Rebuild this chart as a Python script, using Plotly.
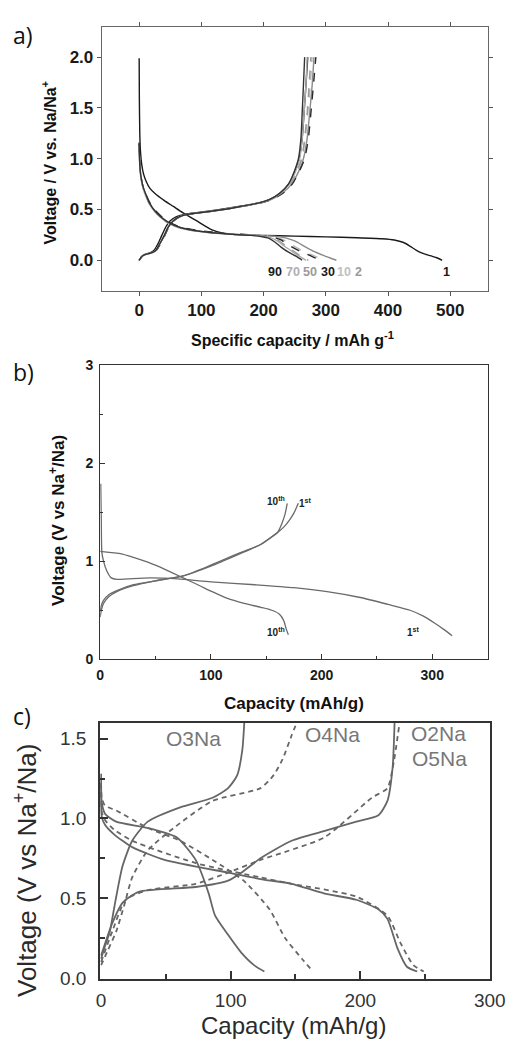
import plotly.graph_objects as go

W, H = 526, 1045

# ---------------- Panel a data ----------------
A_CYCLES = ["1", "2", "10", "30", "50", "70", "90"]

A_DIS_X = {
    "1":  [0, 0.3, 1, 2, 4, 7, 11, 17, 25, 40, 55, 70, 92, 117, 138, 150, 200, 250, 300, 350, 390, 410, 425, 435, 445, 455, 468, 478, 487],
    "2":  [0, 0.5, 1.5, 3, 6, 10, 16, 26, 45, 67, 100, 143, 180, 205, 220, 235, 250, 265, 280, 295, 308, 317],
    "10": [0, 0.5, 1.5, 3, 6, 10, 16, 26, 45, 67, 100, 143, 180, 205, 218, 232, 246, 260, 275, 290, 300],
    "30": [0, 0.5, 1.5, 3, 6, 10, 16, 26, 45, 67, 100, 143, 180, 205, 215, 228, 240, 255, 270, 284, 294],
    "50": [0, 0.5, 1.5, 3, 6, 10, 16, 26, 45, 67, 100, 143, 180, 203, 212, 225, 236, 248, 260, 272],
    "70": [0, 0.5, 1.5, 3, 6, 10, 16, 26, 45, 67, 100, 143, 180, 200, 210, 222, 233, 245, 257, 268],
    "90": [0, 0.5, 1.5, 3, 6, 10, 16, 26, 45, 67, 100, 143, 180, 198, 207, 218, 228, 240, 252, 262],
}
A_DIS_Y = {
    "1":  [1.99, 1.6, 1.25, 1.08, 0.95, 0.85, 0.78, 0.71, 0.66, 0.59, 0.53, 0.47, 0.39, 0.30, 0.262, 0.255, 0.245, 0.238, 0.23, 0.222, 0.212, 0.20, 0.175, 0.14, 0.10, 0.07, 0.045, 0.025, 0.0],
    "2":  [1.15, 1.02, 0.90, 0.82, 0.73, 0.66, 0.57, 0.48, 0.38, 0.32, 0.285, 0.26, 0.25, 0.24, 0.235, 0.22, 0.19, 0.14, 0.09, 0.05, 0.02, 0.0],
    "10": [1.14, 1.01, 0.90, 0.81, 0.72, 0.65, 0.57, 0.48, 0.38, 0.32, 0.285, 0.26, 0.25, 0.24, 0.23, 0.20, 0.15, 0.10, 0.06, 0.02, 0.0],
    "30": [1.16, 1.03, 0.91, 0.82, 0.73, 0.66, 0.58, 0.49, 0.385, 0.325, 0.29, 0.262, 0.25, 0.238, 0.23, 0.20, 0.15, 0.10, 0.06, 0.02, 0.0],
    "50": [1.13, 1.0, 0.89, 0.81, 0.72, 0.65, 0.56, 0.47, 0.375, 0.315, 0.28, 0.258, 0.248, 0.235, 0.225, 0.19, 0.14, 0.09, 0.04, 0.0],
    "70": [1.12, 1.0, 0.88, 0.80, 0.71, 0.64, 0.56, 0.47, 0.37, 0.315, 0.28, 0.257, 0.246, 0.235, 0.225, 0.19, 0.14, 0.09, 0.04, 0.0],
    "90": [1.15, 1.02, 0.90, 0.82, 0.73, 0.66, 0.57, 0.48, 0.38, 0.32, 0.283, 0.258, 0.245, 0.232, 0.22, 0.18, 0.13, 0.08, 0.04, 0.0],
}
A_CH_Y = [0, 0.035, 0.055, 0.065, 0.075, 0.10, 0.16, 0.24, 0.33, 0.39, 0.43, 0.455, 0.47, 0.495, 0.53, 0.565, 0.60, 0.66, 0.75, 0.87, 1.0, 1.2, 1.45, 1.72, 2.0]
A_CH_X = {
    "1":  [0, 4, 8, 13, 18, 24, 30, 36, 43, 50, 60, 75, 95, 125, 160, 192, 210, 226, 240, 250, 257, 262, 265, 268, 271],
    "2":  [0, 4, 9, 15, 21, 27, 33, 40, 47, 55, 65, 80, 100, 130, 165, 195, 213, 230, 245, 256, 264, 270, 274, 278, 281],
    "10": [0, 4, 9, 15, 21, 27, 33, 40, 47, 55, 65, 80, 100, 130, 165, 195, 213, 229, 244, 254, 262, 267, 271, 275, 278],
    "30": [0, 4, 9, 16, 22, 28, 34, 41, 48, 56, 66, 81, 101, 131, 166, 196, 214, 231, 246, 257, 266, 272, 276, 280, 284],
    "50": [0, 4, 9, 15, 21, 27, 33, 40, 47, 55, 65, 80, 100, 130, 165, 195, 212, 228, 243, 253, 261, 266, 270, 273, 276],
    "70": [0, 4, 9, 15, 21, 27, 33, 40, 47, 55, 65, 80, 100, 130, 164, 194, 211, 227, 241, 251, 258, 262, 265, 268, 270],
    "90": [0, 4, 9, 15, 21, 27, 33, 40, 47, 55, 65, 80, 100, 130, 163, 193, 210, 226, 240, 249, 256, 260, 262, 264, 266],
}
A_COLORS = {"1": "#1a1a1a", "2": "#8a8a8a", "10": "#b8b8b8", "30": "#2a2a2a", "50": "#9a9a9a", "70": "#ababab", "90": "#333333"}
A_DASH = {"1": "solid", "2": "solid", "10": "dash", "30": "dash", "50": "dash", "70": "solid", "90": "solid"}
A_LABELS = ["90", "70", "50", "30", "10", "2", "1"]
A_LABEL_X = [218, 247, 275, 303, 329, 353, 494]
A_LABEL_COLORS = ["#1a1a1a", "#b0b0b0", "#9a9a9a", "#1a1a1a", "#c0c0c0", "#9a9a9a", "#1a1a1a"]

# ---------------- Panel b data ----------------
B_DIS1_X = [0.5, 1, 1.5, 3, 6, 10, 15, 25, 45, 70, 100, 140, 175, 205, 235, 260, 280, 292, 302, 311, 318]
B_DIS1_Y = [1.79, 1.4, 1.09, 1.0, 0.9, 0.83, 0.815, 0.82, 0.83, 0.82, 0.79, 0.76, 0.73, 0.69, 0.63, 0.56, 0.50, 0.44, 0.37, 0.30, 0.24]
B_DIS10_X = [0, 8, 17, 30, 43, 58, 75, 90, 101, 115, 130, 145, 155, 162, 166, 168, 170]
B_DIS10_Y = [1.10, 1.09, 1.08, 1.04, 0.99, 0.92, 0.83, 0.75, 0.69, 0.62, 0.57, 0.53, 0.50, 0.46, 0.39, 0.31, 0.25]
B_CH1_X = [0, 1, 3, 8, 15, 30, 50, 75, 100, 125, 145, 160, 166, 171, 175, 179]
B_CH1_Y = [0.43, 0.50, 0.57, 0.64, 0.69, 0.75, 0.80, 0.85, 0.95, 1.07, 1.17, 1.29, 1.35, 1.42, 1.49, 1.59]
B_CH10_X = [0, 1, 3, 8, 15, 30, 50, 75, 100, 125, 145, 155, 160, 164, 167, 169]
B_CH10_Y = [0.49, 0.55, 0.60, 0.66, 0.70, 0.76, 0.80, 0.85, 0.96, 1.08, 1.17, 1.25, 1.29, 1.38, 1.48, 1.59]
B_LABELS = ["10<sup>th</sup>", "1<sup>st</sup>", "10<sup>th</sup>", "1<sup>st</sup>"]
B_LABEL_X = [159, 185, 159, 283]
B_LABEL_Y = [1.61, 1.59, 0.28, 0.28]

# ---------------- Panel c data ----------------
C_NAMES = ["O3Na", "O4Na", "O2Na", "O5Na"]
C_DIS_X = {
    "O3Na": [0, 0.5, 3, 11.6, 36, 58.5, 73, 83, 88, 98, 108, 118, 126],
    "O4Na": [0, 0.5, 3, 11.6, 36, 61, 86, 110, 130, 142, 155, 163],
    "O2Na": [0, 0.5, 3, 10, 24, 49, 98, 123, 147, 172, 197, 214, 221, 229, 236, 244],
    "O5Na": [0, 0.5, 3, 10, 24, 73, 123, 147, 197, 221, 231, 241, 249],
}
C_DIS_Y = {
    "O3Na": [1.25, 1.10, 1.03, 0.98, 0.94, 0.88, 0.74, 0.53, 0.39, 0.27, 0.16, 0.08, 0.04],
    "O4Na": [1.28, 1.13, 1.08, 1.05, 0.94, 0.86, 0.74, 0.61, 0.43, 0.25, 0.12, 0.045],
    "O2Na": [1.2, 1.01, 0.96, 0.90, 0.82, 0.74, 0.66, 0.62, 0.59, 0.53, 0.49, 0.43, 0.37, 0.18, 0.07, 0.04],
    "O5Na": [1.22, 1.04, 0.99, 0.93, 0.86, 0.72, 0.63, 0.59, 0.51, 0.39, 0.22, 0.08, 0.04],
}
C_CH_X = {
    "O3Na": [0, 3, 6.7, 11, 16.5, 24, 36, 61, 86, 98, 105, 109, 110.5],
    "O4Na": [0, 5, 11.6, 18, 24, 36, 56, 86, 123, 133, 140, 147, 151],
    "O2Na": [0, 8, 16.5, 29, 73, 98, 110, 123, 147, 172, 197, 214, 221, 225, 226.5],
    "O5Na": [0, 9, 19, 36, 73, 98, 123, 172, 209, 221, 226, 230],
}
C_CH_Y = {
    "O3Na": [0.12, 0.2, 0.29, 0.48, 0.70, 0.86, 0.98, 1.07, 1.13, 1.19, 1.27, 1.43, 1.6],
    "O4Na": [0.08, 0.17, 0.29, 0.46, 0.63, 0.80, 0.94, 1.11, 1.19, 1.27, 1.37, 1.52, 1.6],
    "O2Na": [0.14, 0.33, 0.47, 0.54, 0.57, 0.61, 0.67, 0.75, 0.86, 0.92, 0.98, 1.02, 1.11, 1.32, 1.6],
    "O5Na": [0.10, 0.30, 0.49, 0.55, 0.59, 0.66, 0.74, 0.88, 1.13, 1.19, 1.36, 1.58],
}
C_DASH = {"O3Na": "solid", "O4Na": "5px,4px", "O2Na": "solid", "O5Na": "5px,4px"}
C_LABEL_PX = [(197, 743), (341, 739), (452, 738), (453, 764)]


def px(x):
    return x / W


def py(y):
    return 1 - y / H


fig = go.Figure()


def add(xs, ys, xa, ya, color, width, dash="solid", smooth=0.6):
    fig.add_trace(go.Scatter(
        x=xs, y=ys, mode="lines", xaxis=xa, yaxis=ya,
        line=dict(color=color, width=width, dash=dash, shape="spline", smoothing=smooth),
        showlegend=False, hoverinfo="skip"))


# Panel a
for c in A_CYCLES:
    add(A_DIS_X[c], A_DIS_Y[c], "x", "y", A_COLORS[c], 1.4, A_DASH[c])
    add(A_CH_X[c], A_CH_Y, "x", "y", A_COLORS[c], 1.4, A_DASH[c])

# Panel b
for xs, ys in [(B_DIS1_X, B_DIS1_Y), (B_DIS10_X, B_DIS10_Y), (B_CH1_X, B_CH1_Y), (B_CH10_X, B_CH10_Y)]:
    add(xs, ys, "x2", "y2", "#6a6a6a", 1.3)

# Panel c
for n in C_NAMES:
    add(C_DIS_X[n], C_DIS_Y[n], "x3", "y3", "#666666", 1.8, C_DASH[n])
    add(C_CH_X[n], C_CH_Y[n], "x3", "y3", "#666666", 1.8, C_DASH[n])

BOLD = "Liberation Sans, Arial, sans-serif"

ann = []
# panel letters
for t, x, y in [("a)", 20, 27), ("b)", 20, 370), ("c)", 19, 720)]:
    ann.append(dict(text=t, x=px(x), y=py(y), xref="paper", yref="paper", showarrow=False,
                    xanchor="center", yanchor="middle", font=dict(family="Open Sans", size=23, color="#111")))
# panel a titles
ann.append(dict(text="Voltage / V vs. Na/Na<sup>+</sup>", x=px(47), y=py(157), xref="paper", yref="paper",
                textangle=-90, showarrow=False, xanchor="center", yanchor="middle",
                font=dict(family=BOLD, size=16, color="#111", weight="bold")))
ann.append(dict(text="Specific capacity / mAh g<sup>-1</sup>", x=px(300), y=py(337), xref="paper", yref="paper",
                showarrow=False, xanchor="center", yanchor="middle",
                font=dict(family=BOLD, size=16, color="#111", weight="bold")))
# panel a cycle labels
for t, x, col in zip(A_LABELS, A_LABEL_X, A_LABEL_COLORS):
    ann.append(dict(text=t, x=x, y=-0.116, xref="x", yref="y", showarrow=False, xanchor="center", yanchor="middle",
                    font=dict(family=BOLD, size=12.5, color=col, weight="bold")))
# panel b titles
ann.append(dict(text="Voltage (V vs Na<sup>+</sup>/Na)", x=px(55), y=py(521), xref="paper", yref="paper",
                textangle=-90, showarrow=False, xanchor="center", yanchor="middle",
                font=dict(family=BOLD, size=17, color="#111", weight="bold")))
ann.append(dict(text="Capacity (mAh/g)", x=px(301), y=py(708), xref="paper", yref="paper",
                showarrow=False, xanchor="center", yanchor="middle",
                font=dict(family=BOLD, size=17, color="#111", weight="bold")))
for t, x, y in zip(B_LABELS, B_LABEL_X, B_LABEL_Y):
    ann.append(dict(text=t, x=x, y=y, xref="x2", yref="y2", showarrow=False, xanchor="center", yanchor="middle",
                    font=dict(family=BOLD, size=10, color="#222", weight="bold")))
# panel c titles
ann.append(dict(text="Voltage (V vs Na<sup>+</sup>/Na)", x=px(23), y=py(878), xref="paper", yref="paper",
                textangle=-90, showarrow=False, xanchor="center", yanchor="middle",
                font=dict(family="Liberation Sans, Arial", size=26, color="#2a2a2a")))
ann.append(dict(text="Capacity (mAh/g)", x=px(301), y=py(1035), xref="paper", yref="paper",
                showarrow=False, xanchor="center", yanchor="middle",
                font=dict(family="Liberation Sans, Arial", size=24, color="#2a2a2a")))
for n, (x, y) in zip(C_NAMES, C_LABEL_PX):
    ann.append(dict(text=n, x=px(x), y=py(y), xref="paper", yref="paper", showarrow=False,
                    xanchor="center", yanchor="middle",
                    font=dict(family="Liberation Sans, Arial", size=21, color="#777")))

fa_tick = dict(family=BOLD, size=17, color="#1a1a1a", weight="bold")
fb_tick = dict(family=BOLD, size=14, color="#1a1a1a", weight="bold")
fc_tick = dict(family="Liberation Sans, Arial", size=19, color="#333")

fig.update_layout(
    width=W, height=H, margin=dict(l=0, r=0, t=0, b=0),
    paper_bgcolor="white", plot_bgcolor="white", showlegend=False,
    annotations=ann,
    xaxis=dict(domain=[px(101.7), px(502.7)], anchor="y", range=[-60, 560], tick0=0, dtick=100,
               ticks="outside", ticklen=4, tickcolor="#555", showline=True, linecolor="#666", linewidth=1.3,
               mirror="ticks", showgrid=False, zeroline=False, tickfont=fa_tick, ticklabelstandoff=0),
    yaxis=dict(domain=[py(287.7), py(19)], anchor="x", range=[-0.3, 2.3], tick0=0, dtick=0.5, tickformat=".1f",
               ticks="outside", ticklen=4, tickcolor="#555", showline=True, linecolor="#666", linewidth=1.3,
               mirror="ticks", showgrid=False, zeroline=False, tickfont=fa_tick, ticklabelstandoff=0),
    xaxis2=dict(domain=[px(100), px(502.7)], anchor="y2", range=[0, 350], tick0=0, dtick=100,
                ticks="inside", ticklen=5, tickcolor="#333", showline=True, linecolor="#333", linewidth=1.2,
                mirror=True, showgrid=False, zeroline=False, tickfont=fb_tick, ticklabelstandoff=3,
                minor=dict(ticks="inside", ticklen=3, dtick=50, tick0=0, tickcolor="#333")),
    yaxis2=dict(domain=[py(662.7), py(363.3)], anchor="x2", range=[0, 3], tick0=0, dtick=1,
                ticks="inside", ticklen=5, tickcolor="#333", showline=True, linecolor="#333", linewidth=1.2,
                mirror=True, showgrid=False, zeroline=False, tickfont=fb_tick, ticklabelstandoff=3,
                minor=dict(ticks="inside", ticklen=3, dtick=0.5, tick0=0, tickcolor="#333")),
    xaxis3=dict(domain=[px(100), px(505)], anchor="y3", range=[-0.7, 300], tick0=0, dtick=100,
                ticks="inside", ticklen=8, tickwidth=2, tickcolor="#333", showline=True, linecolor="#333", linewidth=2,
                mirror=True, showgrid=False, zeroline=False, tickfont=fc_tick, ticklabelstandoff=4,
                minor=dict(ticks="inside", ticklen=5, tickwidth=2, dtick=50, tick0=0, tickcolor="#333")),
    yaxis3=dict(domain=[py(987.7), py(727.3)], anchor="x3", range=[-0.005, 1.6], tick0=0, dtick=0.5, tickformat=".1f",
                ticks="inside", ticklen=8, tickwidth=2, tickcolor="#333", showline=True, linecolor="#333", linewidth=2,
                mirror=True, showgrid=False, zeroline=False, tickfont=fc_tick, ticklabelstandoff=8,
                minor=dict(ticks="inside", ticklen=5, tickwidth=2, dtick=0.25, tick0=0, tickcolor="#333")),
)

fig.write_html("out.html")
